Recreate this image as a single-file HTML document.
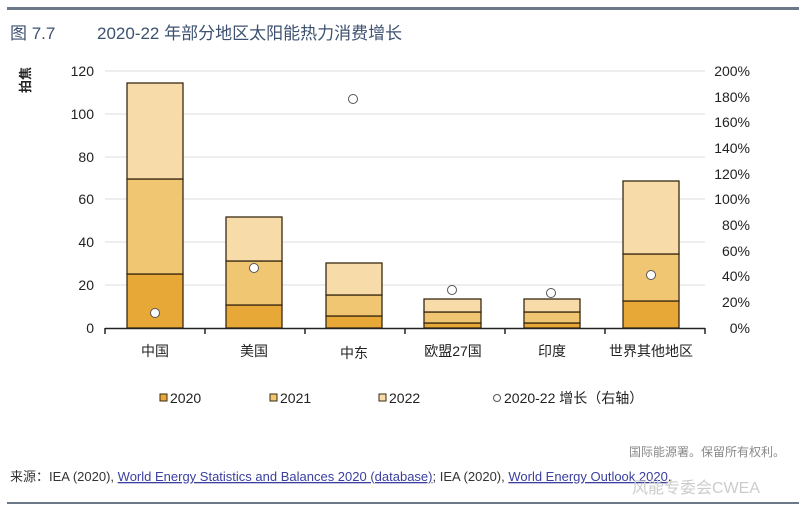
<!DOCTYPE html>
<html><head><meta charset="utf-8"><style>
body{margin:0;background:#fff;width:800px;height:522px;overflow:hidden;font-family:"Liberation Sans","Noto Sans CJK SC",sans-serif}
</style></head><body>
<svg width="800" height="522" xmlns="http://www.w3.org/2000/svg" font-family="Liberation Sans, Noto Sans CJK SC, sans-serif">
<rect x="7" y="7" width="792" height="3" fill="#6b7888"/>
<text x="10" y="39" font-size="17" fill="#3d5170">图 7.7</text>
<text x="97" y="39" font-size="17" fill="#3d5170">2020-22 年部分地区太阳能热力消费增长</text>
<text x="26" y="80" font-size="13" font-weight="bold" fill="#222" transform="rotate(-90 26 80)" text-anchor="middle" dy="4">拍焦</text>
<g stroke="#ddd" stroke-width="1">
<line x1="105" x2="705" y1="71" y2="71"/><line x1="105" x2="705" y1="114" y2="114"/><line x1="105" x2="705" y1="157" y2="157"/><line x1="105" x2="705" y1="199" y2="199"/><line x1="105" x2="705" y1="242" y2="242"/><line x1="105" x2="705" y1="285" y2="285"/>
</g>
<g font-size="14" fill="#222" text-anchor="end">
<text x="94" y="76">120</text><text x="94" y="119">100</text><text x="94" y="162">80</text><text x="94" y="204">60</text><text x="94" y="247">40</text><text x="94" y="290">20</text><text x="94" y="333">0</text>
</g>
<g font-size="14" fill="#222" text-anchor="end">
<text x="750" y="76">200%</text><text x="750" y="102">180%</text><text x="750" y="127">160%</text><text x="750" y="153">140%</text><text x="750" y="179">120%</text><text x="750" y="204">100%</text><text x="750" y="230">80%</text><text x="750" y="256">60%</text><text x="750" y="281">40%</text><text x="750" y="307">20%</text><text x="750" y="333">0%</text>
</g>
<g stroke="#3a2a10" stroke-width="1.3">
<rect x="127" y="274" width="56" height="54" fill="#e8a838"/><rect x="127" y="179" width="56" height="95" fill="#f0c672"/><rect x="127" y="83" width="56" height="96" fill="#f7dcaa"/>
<rect x="226" y="305" width="56" height="23" fill="#e8a838"/><rect x="226" y="261" width="56" height="44" fill="#f0c672"/><rect x="226" y="217" width="56" height="44" fill="#f7dcaa"/>
<rect x="326" y="316" width="56" height="12" fill="#e8a838"/><rect x="326" y="295" width="56" height="21" fill="#f0c672"/><rect x="326" y="263" width="56" height="32" fill="#f7dcaa"/>
<rect x="424" y="323" width="57" height="5" fill="#e8a838"/><rect x="424" y="312" width="57" height="11" fill="#f0c672"/><rect x="424" y="299" width="57" height="13" fill="#f7dcaa"/>
<rect x="524" y="323" width="56" height="5" fill="#e8a838"/><rect x="524" y="312" width="56" height="11" fill="#f0c672"/><rect x="524" y="299" width="56" height="13" fill="#f7dcaa"/>
<rect x="623" y="301" width="56" height="27" fill="#e8a838"/><rect x="623" y="254" width="56" height="47" fill="#f0c672"/><rect x="623" y="181" width="56" height="73" fill="#f7dcaa"/>
</g>
<g stroke="#222" stroke-width="1.5"><line x1="105" x2="705" y1="328.5" y2="328.5"/>
<line x1="105" x2="105" y1="328" y2="334"/><line x1="205" x2="205" y1="328" y2="334"/><line x1="305" x2="305" y1="328" y2="334"/><line x1="405" x2="405" y1="328" y2="334"/><line x1="505" x2="505" y1="328" y2="334"/><line x1="605" x2="605" y1="328" y2="334"/><line x1="705" x2="705" y1="328" y2="334"/></g>
<g fill="#fff" stroke="#555" stroke-width="1">
<circle cx="155" cy="313" r="4.5"/><circle cx="254" cy="268" r="4.5"/><circle cx="353" cy="99" r="4.5"/><circle cx="452" cy="290" r="4.5"/><circle cx="551" cy="293" r="4.5"/><circle cx="651" cy="275" r="4.5"/>
</g>
<g font-size="14" fill="#222" text-anchor="middle">
<text x="155" y="356">中国</text><text x="254" y="356">美国</text><text x="354" y="358">中东</text><text x="453" y="356">欧盟27国</text><text x="552" y="356">印度</text><text x="651" y="356">世界其他地区</text>
</g>
<g font-size="14" fill="#222" stroke="#3a2a10" stroke-width="1">
<rect x="160" y="394" width="7" height="7" fill="#e8a838"/><text x="170" y="403" stroke="none">2020</text>
<rect x="270" y="394" width="7" height="7" fill="#f0c672"/><text x="280" y="403" stroke="none">2021</text>
<rect x="379" y="394" width="7" height="7" fill="#f7dcaa"/><text x="389" y="403" stroke="none">2022</text>
<circle cx="497" cy="398" r="3.5" fill="#fff" stroke="#555"/><text x="504" y="403" stroke="none">2020-22 增长（右轴）</text>
</g>
<text x="785" y="456" font-size="12" fill="#888" text-anchor="end">国际能源署。保留所有权利。</text>
<text x="10" y="481" font-size="13" fill="#333">来源：IEA (2020), <tspan fill="#3a3fa0" text-decoration="underline">World Energy Statistics and Balances 2020 (database)</tspan>; IEA (2020), <tspan fill="#3a3fa0" text-decoration="underline">World Energy Outlook 2020</tspan>.</text>
<text x="760" y="493" font-size="16" fill="#ccc" text-anchor="end">风能专委会CWEA</text>
<rect x="7" y="502" width="792" height="2" fill="#6b7888"/>
</svg>
</body></html>
